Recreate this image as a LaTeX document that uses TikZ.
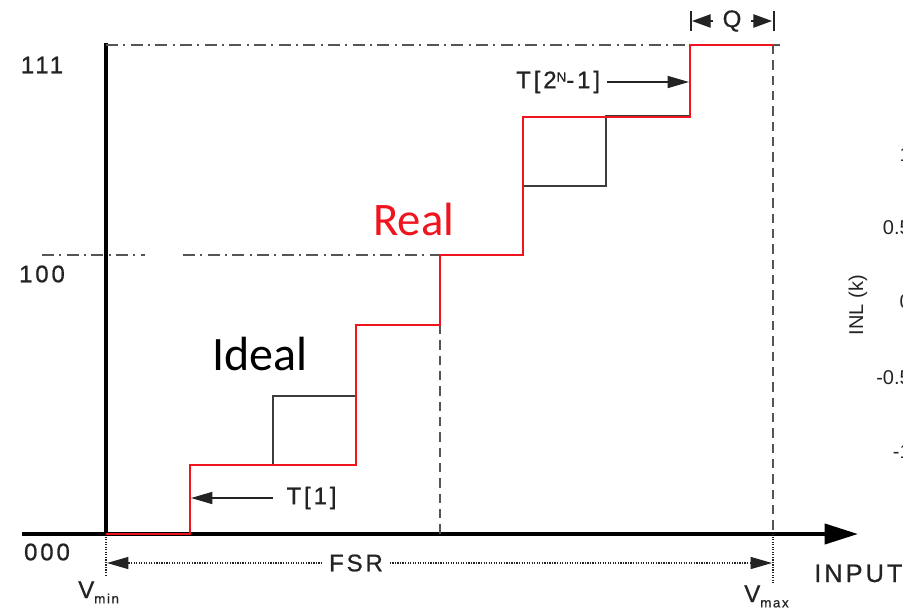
\documentclass[tikz,border=0pt]{standalone}
\usepackage{fontspec}
\setmainfont{Liberation Sans}
\newfontfamily\spaced{Liberation Sans}[LetterSpace=12,FakeBold=0.8]
\newfontfamily\calib{Carlito}
\usepackage{xcolor}
\usetikzlibrary{arrows.meta}

\definecolor{stepgray}{RGB}{60,60,60}
\definecolor{realred}{RGB}{240,20,30}
\definecolor{guidegray}{RGB}{85,85,85}
\definecolor{labelgray}{RGB}{35,35,35}

\newcommand{\lowtext}[1]{\raisebox{-4pt}{\fontsize{10}{12}\selectfont #1}}
\newcommand{\hightext}[1]{\raisebox{5pt}{\fontsize{10}{12}\selectfont #1}}

\begin{document}
\begin{tikzpicture}[x=0.75pt,y=0.75pt,yscale=-1,xscale=1,
  axis/.style={line width=3pt, black},
  ideal/.style={line width=1.8pt, stepgray},
  real/.style={line width=1.1pt, realred},
  guide/.style={line width=1.3pt, guidegray, dash pattern=on 9pt off 4pt on 1.5pt off 4pt},
  drop/.style={line width=1.4pt, guidegray, dash pattern=on 7pt off 4.5pt},
  ext/.style={line width=0.9pt, labelgray, densely dotted},
  lbl/.style={inner sep=0.75pt, labelgray, font=\spaced\fontsize{18}{21}\selectfont},
  tick/.style={inner sep=0pt, labelgray, font=\fontsize{15}{18}\selectfont},
  pointer/.style={line width=1.1pt, labelgray, -{Triangle[length=16pt,width=9pt]}}
]
\useasboundingbox (0,0) rectangle (903,611);

%Axes
\draw[axis, -{Triangle[length=25pt,width=15pt]}] (22,534) -- (858,534);
\draw[axis] (106,534) -- (106,43);

%Dash-dot levels
\draw[guide] (106,45) -- (780,45);
\draw[guide] (42,255) -- (145,255);
\draw[guide] (183,255) -- (440,255);
%Dashed drops
\draw[drop] (440,325) -- (440,534);
\draw[drop] (773,45) -- (773,534);
\draw[ext] (773,534) -- (773,583);
\draw[ext] (106,534) -- (106,577);

%Ideal staircase
\draw[ideal] (106,534) -- (190,534) -- (190,465) -- (273,465) -- (273,396) -- (356,396) -- (356,325) -- (440,325) -- (440,255) -- (523,255) -- (523,186) -- (606,186) -- (606,116) -- (690,116) -- (690,45) -- (773,45);
%Real staircase
\draw[real] (106,534) -- (190,534) -- (190,465) -- (356,465) -- (356,325) -- (440,325) -- (440,255) -- (523,255) -- (523,117) -- (690,117) -- (690,45) -- (773,45);

% Text Node
\node[lbl] (lone) at (42,65) {111};
\node[lbl] (lfour) at (42,274) {100};
\node[lbl] (lzero) at (47,552) {000};

% Text Node
\node[anchor=base west, inner sep=0pt, font=\calib\fontsize{36}{40}\selectfont] (ideallbl) at (212,370) {Ideal};
\node[anchor=base west, inner sep=0pt, realred, font=\calib\fontsize{35}{40}\selectfont] (reallbl) at (373,235) {Real};

%T[1] pointer
\node[lbl, anchor=west, inner xsep=10pt] (tone) at (273,498) {T[1]};
\coordinate (tonetip) at (191,498);
\draw[pointer] (tone.west) -- (tonetip);

%T[2^N-1] pointer
\node[lbl, anchor=east, inner xsep=5pt] (tlast) at (607,82) {T[2\hightext{N}-1]};
\coordinate (tlasttip) at (689,82);
\draw[pointer] (tlast.east) -- (tlasttip);

%FSR span
\node[lbl, inner xsep=5pt] (fsr) at (356,563) {FSR};
\coordinate (fsrleft) at (107,563);
\coordinate (fsrright) at (772,563);
\draw[ext, -{Triangle[length=16pt,width=9pt]}] (fsr.west) -- (fsrleft);
\draw[ext, -{Triangle[length=16pt,width=9pt]}] (fsr.east) -- (fsrright);

%Q span
\node[lbl, inner xsep=7pt] (q) at (732,21) {Q};
\coordinate (qleft) at (692,21);
\coordinate (qright) at (772,21);
\draw[line width=1pt, labelgray, -{Triangle[length=14pt,width=10pt]}] (q.west) -- (qleft);
\draw[line width=1pt, labelgray, -{Triangle[length=14pt,width=10pt]}] (q.east) -- (qright);
\draw[line width=1.6pt, labelgray] (691,11) -- (691,31);
\draw[line width=1.6pt, labelgray] (774,11) -- (774,31);

% Text Node
\node[lbl, anchor=base west, font=\spaced\fontsize{19}{22}\selectfont] (input) at (813,582) {INPUT};
\node[lbl, anchor=base west] (vmin) at (77,598) {V\lowtext{min}};
\node[lbl, anchor=base west] (vmax) at (743,602) {V\lowtext{max}};

%INL axis, cut at the edge
\node[tick, rotate=90] (inl) at (858,305) {INL (k)};
\node[tick, anchor=east] (tkone) at (911,155) {1};
\node[tick, anchor=east] (tkhalf) at (911,228) {0.5};
\node[tick, anchor=east] (tkzero) at (911,302) {0};
\node[tick, anchor=east] (tkmhalf) at (911,378) {-0.5};
\node[tick, anchor=east] (tkmone) at (911,452) {-1};

\end{tikzpicture}
\end{document}
